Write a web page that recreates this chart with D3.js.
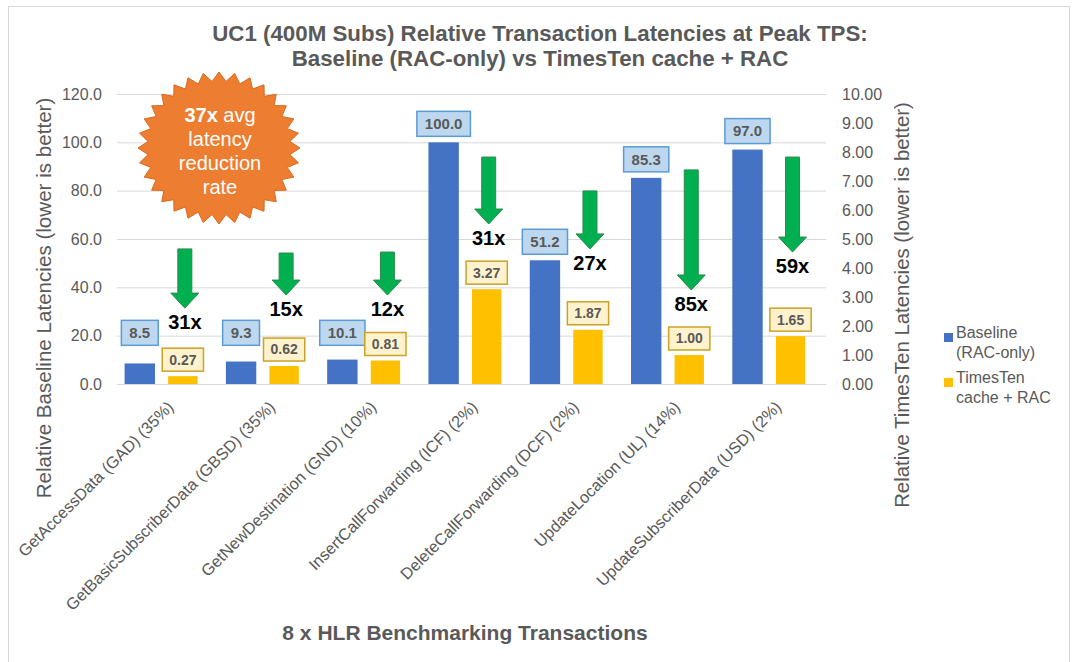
<!DOCTYPE html>
<html>
<head>
<meta charset="utf-8">
<script src="https://cdn.jsdelivr.net/npm/d3@7"></script>
<style>
  body { margin: 0; background: #fff; }
  text { font-family: "Liberation Sans", Arial, sans-serif; }
</style>
</head>
<body>
<div id="chart"></div>
<script>
(function () {

  // Data
  const categories = [
    "GetAccessData (GAD) (35%)",
    "GetBasicSubscriberData (GBSD) (35%)",
    "GetNewDestination (GND) (10%)",
    "InsertCallForwarding (ICF) (2%)",
    "DeleteCallForwarding (DCF) (2%)",
    "UpdateLocation (UL) (14%)",
    "UpdateSubscriberData (USD) (2%)"
  ]
  const baseline = [8.5, 9.3, 10.1, 100.0, 51.2, 85.3, 97.0]
  const timesTen = [0.27, 0.62, 0.81, 3.27, 1.87, 1.00, 1.65]
  const ratios = ["31x", "15x", "12x", "31x", "27x", "85x", "59x"]
  // arrow start / end, in baseline-axis units
  const arrowFrom = [55.9, 54.2, 54.6, 93.9, 79.9, 88.6, 93.9]
  const arrowTo = [31.4, 36.8, 36.8, 66.2, 55.9, 38.9, 54.6]
  const leftTicks = [0, 20, 40, 60, 80, 100, 120]
  const rightTicks = [0, 1, 2, 3, 4, 5, 6, 7, 8, 9, 10]
  const seriesNames = [["Baseline", "(RAC-only)"], ["TimesTen", "cache + RAC"]]

  const W = 1072, H = 662
  const plot = { left: 117, right: 826, top: 94, bottom: 384 }
  const grey = "#595959"
  const blue = "#4472c4", gold = "#ffc000"

  const svg = d3.select("#chart").append("svg")
      .attr("width", W)
      .attr("height", H)

  // chart frame
  svg.append("rect")
    .attr("x", 8.5).attr("y", 6.5)
    .attr("width", 1061).attr("height", 700)
    .attr("fill", "#fff")
    .attr("stroke", "#d9d9d9")

  const x = d3.scaleBand()
    .domain(categories)
    .range([plot.left, plot.right])
  const bw = x.bandwidth()

  const yL = d3.scaleLinear().domain([0, 120]).range([plot.bottom, plot.top])
  const yR = d3.scaleLinear().domain([0, 10]).range([plot.bottom, plot.top])

  // gridlines
  svg.append("g")
    .attr("transform", `translate(${plot.left},0)`)
    .call(d3.axisLeft(yL).tickValues(leftTicks).tickSize(-(plot.right - plot.left)).tickFormat(""))
    .call(g => g.select(".domain").remove())
    .call(g => g.selectAll("line").attr("stroke", "#d9d9d9"))

  // left axis
  svg.append("g")
    .attr("transform", `translate(${plot.left},0)`)
    .call(d3.axisLeft(yL).tickValues(leftTicks).tickFormat(d3.format(".1f")).tickSize(0).tickPadding(15))
    .call(g => g.select(".domain").remove())
    .call(g => g.selectAll("text")
      .attr("fill", grey).style("font-size", "16px")
      .style("font-family", "'Liberation Sans', Arial, sans-serif"))

  // right axis
  svg.append("g")
    .attr("transform", `translate(${plot.right},0)`)
    .call(d3.axisRight(yR).tickValues(rightTicks).tickFormat(d3.format(".2f")).tickSize(0).tickPadding(16))
    .call(g => g.select(".domain").remove())
    .call(g => g.selectAll("text")
      .attr("fill", grey).style("font-size", "16px")
      .style("font-family", "'Liberation Sans', Arial, sans-serif"))

  // bars
  const blueX = i => x(categories[i]) + bw * 0.075
  const goldX = i => x(categories[i]) + bw * 0.505
  const blueW = bw * 0.3, goldW = bw * 0.29

  svg.append("g").selectAll("rect")
    .data(baseline)
    .join("rect")
    .attr("x", (d, i) => blueX(i))
    .attr("y", d => yL(d))
    .attr("width", blueW)
    .attr("height", d => yL(0) - yL(d))
    .attr("fill", blue)

  svg.append("g").selectAll("rect")
    .data(timesTen)
    .join("rect")
    .attr("x", (d, i) => goldX(i))
    .attr("y", d => yR(d))
    .attr("width", goldW)
    .attr("height", d => yR(0) - yR(d))
    .attr("fill", gold)

  // value label boxes
  function labelBox(g, cx, bottom, txt, size, pad, h, fill, stroke) {
    const t = g.append("text")
      .attr("x", cx).attr("y", bottom - h / 2)
      .attr("dy", "0.35em")
      .attr("text-anchor", "middle")
      .attr("fill", grey)
      .style("font-size", size + "px")
      .style("font-weight", "bold")
      .text(txt)
    const tw = t.node().getComputedTextLength()
    g.insert("rect", "text")
      .attr("x", cx - tw / 2 - pad).attr("y", bottom - h)
      .attr("width", tw + pad * 2).attr("height", h)
      .attr("fill", fill).attr("stroke", stroke).attr("stroke-width", 1.5)
  }

  baseline.forEach((d, i) => {
    const g = svg.append("g")
    const bottom = Math.min(yL(d) - 6, yL(16))
    labelBox(g, blueX(i) + blueW / 2, bottom, d3.format(".1f")(d), 15, 8, 25, "#bdd7ee", "#5b9bd5")
  })
  timesTen.forEach((d, i) => {
    const g = svg.append("g")
    labelBox(g, goldX(i) + goldW / 2, yR(d) - 5, d3.format(".2f")(d), 14, 7, 23, "#fff2cc", "#c9a227")
  })

  // green arrows + reduction factors
  const arrowG = svg.append("g")
  ratios.forEach((r, i) => {
    const cx = goldX(i) + goldW / 2 + 2
    const y0 = yL(arrowFrom[i]), y1 = yL(arrowTo[i])
    const head = 15, sw = 7, hw = 14
    const pts = [
      [cx - sw, y0], [cx + sw, y0], [cx + sw, y1 - head], [cx + hw, y1 - head],
      [cx, y1], [cx - hw, y1 - head], [cx - sw, y1 - head]
    ]
    arrowG.append("path")
      .attr("d", d3.line()(pts) + "Z")
      .attr("fill", "#00b050")
      .attr("stroke", "#2a8a4a")
      .attr("stroke-width", 1)
    arrowG.append("text")
      .attr("x", cx).attr("y", y1 + 14)
      .attr("dy", "0.35em")
      .attr("text-anchor", "middle")
      .attr("fill", "#000")
      .style("font-size", "20px")
      .style("font-weight", "bold")
      .text(r)
  })

  // category labels
  svg.append("g").selectAll("text")
    .data(categories)
    .join("text")
    .attr("transform", d => `translate(${x(d) + bw / 2 + 3},${plot.bottom + 20}) rotate(-45)`)
    .attr("text-anchor", "end")
    .attr("dy", "0.35em")
    .attr("fill", grey)
    .style("font-size", "16.3px")
    .text(d => d)

  // titles
  const title = svg.append("text")
    .attr("x", 540).attr("y", 41)
    .attr("text-anchor", "middle")
    .attr("fill", grey)
    .style("font-size", "22.3px")
    .style("font-weight", "bold")
  title.append("tspan").attr("x", 540).text("UC1 (400M Subs) Relative Transaction Latencies at Peak TPS:")
  title.append("tspan").attr("x", 540).attr("dy", 25).text("Baseline (RAC-only) vs TimesTen cache + RAC")

  svg.append("text")
    .attr("transform", "translate(44,298) rotate(-90)")
    .attr("text-anchor", "middle")
    .attr("dy", "0.35em")
    .attr("fill", grey)
    .style("font-size", "20.6px")
    .text("Relative Baseline Latencies (lower is better)")

  svg.append("text")
    .attr("transform", "translate(902,305) rotate(-90)")
    .attr("text-anchor", "middle")
    .attr("dy", "0.35em")
    .attr("fill", grey)
    .style("font-size", "20.4px")
    .text("Relative TimesTen Latencies (lower is better)")

  svg.append("text")
    .attr("x", 465).attr("y", 633)
    .attr("text-anchor", "middle")
    .attr("dy", "0.35em")
    .attr("fill", grey)
    .style("font-size", "21px")
    .style("font-weight", "bold")
    .text("8 x HLR Benchmarking Transactions")

  // legend
  const legend = svg.append("g").attr("transform", "translate(944,333)")
  const lg = legend.selectAll("g")
    .data(seriesNames)
    .join("g")
    .attr("transform", (d, i) => `translate(0,${i * 45})`)
  lg.append("rect")
    .attr("width", 9).attr("height", 9)
    .attr("fill", (d, i) => i === 0 ? blue : gold)
  lg.append("text")
    .attr("x", 12).attr("y", 5)
    .attr("dy", "0.35em")
    .attr("fill", grey)
    .style("font-size", "16px")
    .selectAll("tspan")
    .data(d => d)
    .join("tspan")
    .attr("x", 12)
    .attr("dy", (d, i) => i === 0 ? 0 : 20)
    .text(d => d)

  // starburst callout
  const N = 32, cxS = 219, cyS = 148, rx = 81, ry = 76, inner = 0.88
  const starPts = d3.range(N * 2).map(i => {
    const a = i * Math.PI / N - Math.PI / 2
    const k = i % 2 === 0 ? 1 : inner
    return [cxS + Math.cos(a) * rx * k, cyS + Math.sin(a) * ry * k]
  })
  svg.append("path")
    .attr("d", d3.line()(starPts) + "Z")
    .attr("fill", "#ed7d31")
    .attr("stroke", "#d86a1f")
    .attr("stroke-width", 1)

  const star = svg.append("text")
    .attr("text-anchor", "middle")
    .attr("fill", "#fff")
    .style("font-size", "20px")
  const first = star.append("tspan").attr("x", 220).attr("y", 122)
  first.append("tspan").style("font-weight", "bold").text("37x")
  first.append("tspan").text(" avg")
  star.append("tspan").attr("x", 220).attr("y", 146).text("latency")
  star.append("tspan").attr("x", 220).attr("y", 170).text("reduction")
  star.append("tspan").attr("x", 220).attr("y", 194).text("rate")

})();
</script>
</body>
</html>
